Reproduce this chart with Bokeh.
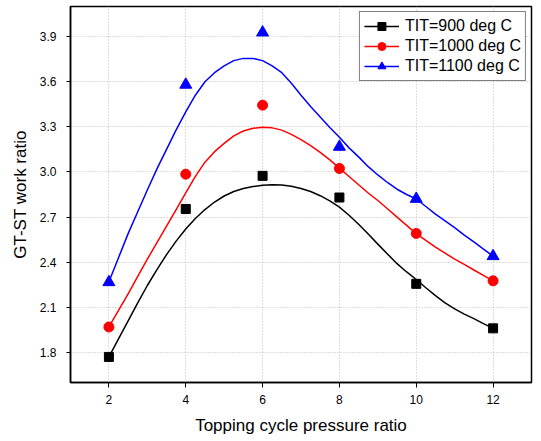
from bokeh.plotting import figure
from bokeh.models import FixedTicker, NumeralTickFormatter, Legend, LegendItem
from bokeh.embed import file_html
from bokeh.resources import INLINE

# measured data points
pressure_ratio = [2, 4, 6, 8, 10, 12]
tit900 = [1.77, 2.754, 2.974, 2.83, 2.256, 1.96]
tit1000 = [1.969, 2.985, 3.444, 3.023, 2.591, 2.276]
tit1100 = [2.267, 3.58, 3.927, 3.167, 2.821, 2.44]

# smooth fitted curves
curve_x = [2.0, 2.25, 2.5, 2.75, 3.0, 3.25, 3.5, 3.75, 4.0, 4.25, 4.5, 4.75, 5.0, 5.25, 5.5,
           5.75, 6.0, 6.25, 6.5, 6.75, 7.0, 7.25, 7.5, 7.75, 8.0, 8.25, 8.5, 8.75, 9.0, 9.25,
           9.5, 9.75, 10.0, 10.25, 10.5, 10.75, 11.0, 11.25, 11.5, 11.75, 12.0]
curve900 = [1.77, 1.89, 2.01, 2.13, 2.245, 2.35, 2.45, 2.54, 2.62, 2.69, 2.75, 2.80, 2.84, 2.87,
            2.89, 2.903, 2.911, 2.915, 2.913, 2.905, 2.89, 2.87, 2.842, 2.807, 2.766, 2.712,
            2.652, 2.587, 2.52, 2.455, 2.39, 2.335, 2.285, 2.23, 2.178, 2.13, 2.09, 2.055,
            2.025, 1.992, 1.96]
curve1000 = [1.97, 2.08, 2.19, 2.305, 2.42, 2.53, 2.64, 2.75, 2.86, 2.97, 3.065, 3.135, 3.19,
             3.24, 3.272, 3.29, 3.297, 3.293, 3.278, 3.25, 3.215, 3.175, 3.13, 3.08, 3.025,
             2.97, 2.915, 2.86, 2.81, 2.755, 2.70, 2.645, 2.59, 2.545, 2.50, 2.46, 2.42,
             2.385, 2.348, 2.312, 2.276]
curve1100 = [2.27, 2.43, 2.59, 2.735, 2.88, 3.02, 3.15, 3.28, 3.40, 3.51, 3.60, 3.66, 3.705,
             3.74, 3.755, 3.755, 3.74, 3.705, 3.66, 3.59, 3.51, 3.435, 3.365, 3.295, 3.23,
             3.16, 3.10, 3.035, 2.98, 2.93, 2.885, 2.85, 2.82, 2.77, 2.72, 2.675, 2.63, 2.58,
             2.535, 2.487, 2.44]

x_ticks = [2, 4, 6, 8, 10, 12]
y_ticks = [1.8, 2.1, 2.4, 2.7, 3.0, 3.3, 3.6, 3.9]
labels = ["TIT=900 deg C", "TIT=1000 deg C", "TIT=1100 deg C"]

FONT = "Liberation Sans"

p = figure(width=541, height=441, x_range=(1, 13), y_range=(1.6, 4.1),
           output_backend="svg", toolbar_location=None,
           min_border_left=70, min_border_right=10, min_border_top=6, min_border_bottom=59)
p.background_fill_color = "white"
p.border_fill_color = "white"
p.outline_line_color = "black"
p.outline_line_width = 1.5

for ax in (p.xaxis[0], p.yaxis[0]):
    ax.axis_line_color = "black"
    ax.axis_line_width = 1.5
    ax.major_tick_line_color = "black"
    ax.major_tick_line_width = 1
    ax.major_tick_in = 0
    ax.minor_tick_line_color = None
    ax.major_label_text_font = FONT
    ax.major_label_text_font_size = "12px"
    ax.major_label_text_color = "black"
    ax.axis_label_text_font = FONT
    ax.axis_label_text_font_size = "17px"
    ax.axis_label_text_font_style = "normal"
    ax.axis_label_text_color = "black"

p.xaxis.ticker = FixedTicker(ticks=x_ticks)
p.yaxis.ticker = FixedTicker(ticks=y_ticks)
p.yaxis.formatter = NumeralTickFormatter(format="0.0")
p.xaxis.major_tick_out = 5
p.yaxis.major_tick_out = 4
p.xaxis.major_label_standoff = 7
p.yaxis.major_label_standoff = 10
p.xaxis.axis_label_standoff = 9
p.yaxis.axis_label_standoff = 7
p.xaxis.axis_label = "Topping cycle pressure ratio"
p.yaxis.axis_label = "GT-ST work ratio"

for g in (p.xgrid[0], p.ygrid[0]):
    g.grid_line_color = "#bdbdbd"
    g.grid_line_width = 1
    g.grid_line_dash = "1 2"

items = []
specs = [
    (curve900, tit900, "black", "square", 9),
    (curve1000, tit1000, "red", "circle", 10),
    (curve1100, tit1100, "blue", "triangle", 12),
]
for (cv, pts, col, mk, sz), lab in zip(specs, labels):
    r_line = p.line(curve_x, cv, line_color=col, line_width=1.5, line_join="round")
    r_pts = p.scatter(pressure_ratio, pts, marker=mk, size=sz, fill_color=col, line_color=col)
    items.append(LegendItem(label=lab, renderers=[r_line, r_pts]))

legend = Legend(items=items, location="top_right")
legend.margin = 5
legend.padding = 4
legend.spacing = 0
legend.glyph_width = 35
legend.glyph_height = 20
legend.label_height = 20
legend.label_standoff = 6
legend.label_text_font = FONT
legend.label_text_font_size = "16px"
legend.label_text_color = "black"
legend.border_line_color = "black"
legend.border_line_width = 1.5
legend.background_fill_color = "white"
legend.background_fill_alpha = 1
p.add_layout(legend, "center")

open("out.html", "w").write(file_html(p, INLINE))
